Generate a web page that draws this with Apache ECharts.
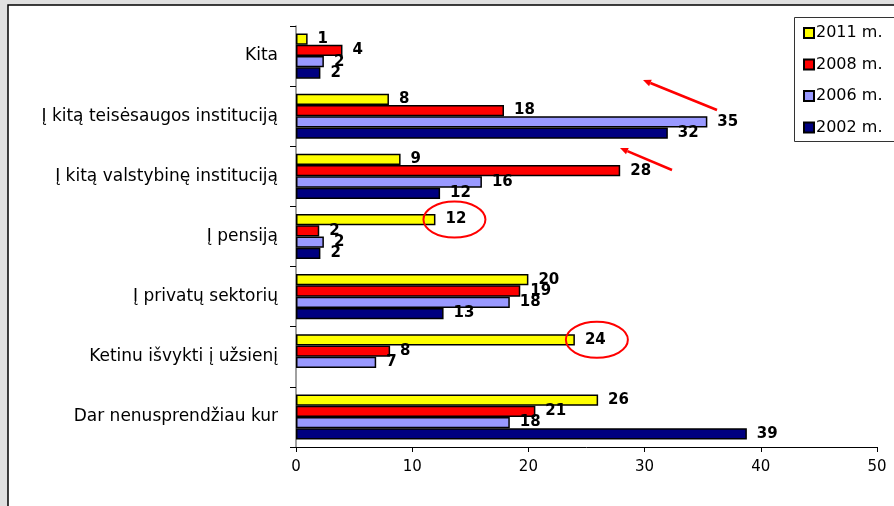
<!DOCTYPE html>
<html>
<head>
<meta charset="utf-8">
<script src="https://cdn.jsdelivr.net/npm/echarts@6/dist/echarts.min.js"></script>
<style>
  html, body { margin: 0; padding: 0; }
  #chart { width: 894px; height: 506px; }
</style>
</head>
<body>
<div id="chart"></div>
<script>
  // data (labels are the rounded values)
  const categories = ['Kita', 'Į kitą teisėsaugos instituciją', 'Į kitą valstybinę instituciją', 'Į pensiją', 'Į privatų sektorių', 'Ketinu išvykti į užsienį', 'Dar nenusprendžiau kur'];
  const seriesNames = ['2011 m.', '2008 m.', '2006 m.', '2002 m.'];
  const values2011 = [1.0, 8.0, 9.0, 12.0, 20.0, 24.0, 26.0];
  const values2008 = [4.0, 17.9, 27.9, 2.0, 19.3, 8.1, 20.6];
  const values2006 = [2.4, 35.4, 16.0, 2.4, 18.4, 6.9, 18.4];
  const values2002 = [2.1, 32.0, 12.4, 2.1, 12.7, null, 38.8];
  const colors = ['#ffff00', '#ff0000', '#9999ff', '#000080'];
  const font = '"DejaVu Sans", Arial, sans-serif';

  let myChart = echarts.init(document.getElementById('chart'));

  function makeSeries(name, data, color) {
    return {
      name: name,
      type: 'bar',
      data: data,
      barGap: '0%',
      barCategoryGap: '25%',
      itemStyle: { color: color, borderColor: '#000', borderWidth: 1.5 },
      label: {
        show: true,
        position: 'right',
        distance: 10,
        color: '#000',
        fontFamily: font,
        fontSize: 15,
        fontWeight: 'bold',
        formatter: p => Math.round(p.value)
      }
    };
  }

  // arrow = line + small triangle head
  function arrow(id, x1, y1, x2, y2) {
    let dx = x2 - x1, dy = y2 - y1;
    let len = Math.sqrt(dx * dx + dy * dy);
    let ux = dx / len, uy = dy / len;
    let hl = 8, hw = 3.5;
    let bx = x2 - ux * hl, by = y2 - uy * hl;
    return {
      type: 'group', id: id, z: 20,
      children: [
        { type: 'line', shape: { x1: x1, y1: y1, x2: bx, y2: by }, style: { stroke: '#ff0000', lineWidth: 2.5 } },
        { type: 'polygon', shape: { points: [[x2, y2], [bx - uy * hw, by + ux * hw], [bx + uy * hw, by - ux * hw]] }, style: { fill: '#ff0000' } }
      ]
    };
  }

  let option = {
    backgroundColor: '#e0e0e0',
    animation: false,
    color: colors,
    grid: { left: 296, right: 17, top: 26, bottom: 59, outerBoundsMode: 'none' },
    legend: {
      data: seriesNames,
      orient: 'vertical',
      left: 803,
      top: 24,
      icon: 'rect',
      itemWidth: 10,
      itemHeight: 10,
      itemGap: 13.5,
      padding: 0,
      textStyle: { color: '#000', fontFamily: font, fontSize: 16, lineHeight: 18, padding: [0, 0, 0, -3] }
    },
    xAxis: {
      type: 'value',
      min: 0,
      max: 50,
      interval: 10,
      axisLine: { show: true, lineStyle: { color: '#000', width: 1 } },
      axisTick: { show: true, length: 5, lineStyle: { color: '#000' } },
      axisLabel: { color: '#000', fontFamily: font, fontSize: 15, margin: 13 },
      splitLine: { show: false }
    },
    yAxis: {
      type: 'category',
      inverse: true,
      data: categories,
      axisLine: { show: true, lineStyle: { color: '#808080', width: 1.5 } },
      axisTick: { show: true, length: 6, lineStyle: { color: '#000' } },
      axisLabel: { color: '#000', fontFamily: font, fontSize: 17, margin: 18 },
      splitLine: { show: false }
    },
    graphic: [
      { type: 'rect', id: 'frame', z: -10, shape: { x: 8, y: 5, width: 900, height: 520 }, style: { fill: '#fff', stroke: '#000', lineWidth: 1.5 } },
      { type: 'rect', id: 'legendBox', z: -5, shape: { x: 794.5, y: 17.5, width: 110, height: 124 }, style: { fill: '#fff', stroke: '#333', lineWidth: 1 } },
      arrow('arrow1', 717, 110, 643, 80),
      arrow('arrow2', 672, 170, 620, 148)
    ],
    series: [
      makeSeries(seriesNames[0], values2011, colors[0]),
      makeSeries(seriesNames[1], values2008, colors[1]),
      makeSeries(seriesNames[2], values2006, colors[2]),
      makeSeries(seriesNames[3], values2002, colors[3])
    ]
  };
  myChart.setOption(option);

  // red circles round the 2011 labels for "Į pensiją" and "Ketinu išvykti į užsienį"
  function circleAt(id, catIndex, value, dx) {
    let p = myChart.convertToPixel({ gridIndex: 0 }, [value, catIndex]);
    let p2 = myChart.convertToPixel({ gridIndex: 0 }, [value, catIndex + 1]);
    let band = Math.abs(p2[1] - p[1]);
    let barH = band * 0.75 / 4;
    return {
      type: 'ellipse', id: id, z: 20,
      shape: { cx: p[0] + dx, cy: p[1] - 1.5 * barH, rx: 31, ry: 18 },
      style: { fill: 'none', stroke: '#ff0000', lineWidth: 2 }
    };
  }
  myChart.setOption({
    graphic: [
      circleAt('circle1', 3, values2011[3], 19),
      circleAt('circle2', 5, values2011[5], 22)
    ]
  });
</script>
</body>
</html>
